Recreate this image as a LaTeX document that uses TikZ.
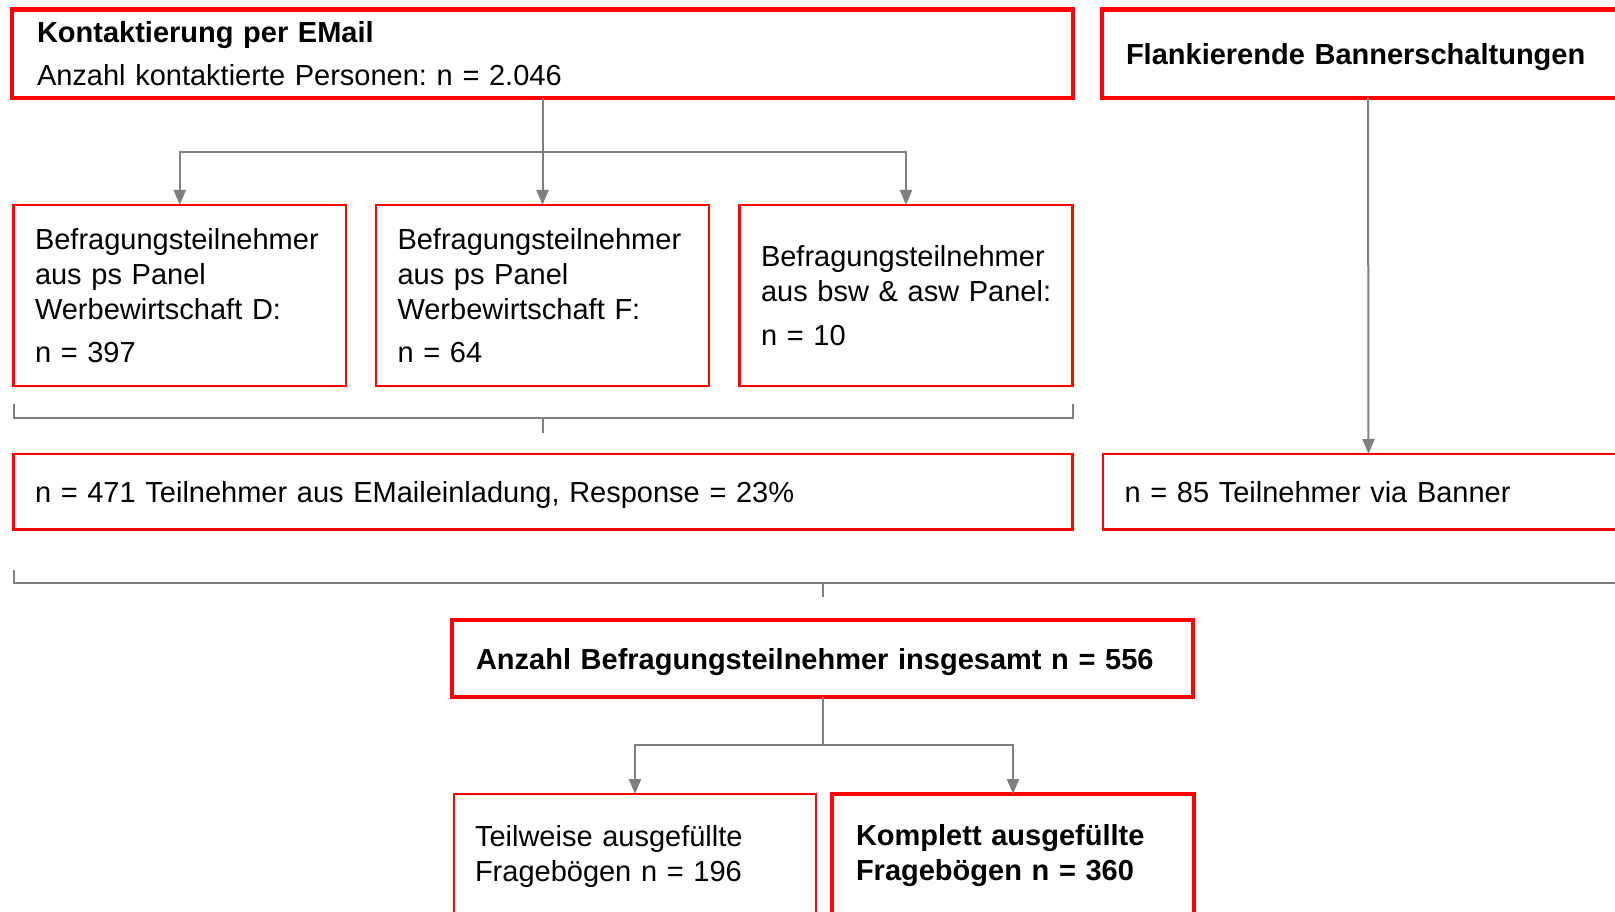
\documentclass[tikz,border=0pt]{standalone}
\usepackage{fontspec}
\setmainfont{Liberation Sans}
\usetikzlibrary{arrows.meta}
\definecolor{boxred}{RGB}{255,0,0}
\definecolor{linegray}{RGB}{128,128,128}
\frenchspacing

\begin{document}
\begin{tikzpicture}[x=1pt,y=-1pt]
	\tikzstyle{box}=[draw=boxred, line width=2.3pt, fill=white, outer sep=0pt, inner xsep=21.5pt, inner ysep=0pt, anchor=north west, align=left, font=\fontsize{29}{35}\selectfont]
	\tikzstyle{bigbox}=[box, line width=4.5pt, inner xsep=24pt]
	\tikzstyle{oneline}=[text depth=0pt]
	\tikzstyle{link}=[draw=linegray, line width=2pt]
	\tikzstyle{arrow}=[link, -{Triangle[length=15pt,width=12pt]}]
	\useasboundingbox (0,0) rectangle (1615,912);
	\clip (0,0) rectangle (1615,912);
	\fill[white] (0,0) rectangle (1615,912);
	% Kontakt
	\node (mail) [bigbox, inner xsep=25pt, text width=1011pt, minimum width=1061pt, minimum height=88.5pt] at (12,9.5) {\textbf{Kontaktierung per EMail}\\[8pt]Anzahl kontaktierte Personen: n = 2.046};
	\node (flank) [bigbox, oneline, text width=484pt, minimum width=532pt, minimum height=88.5pt] at (1102,9.5) {\textbf{Flankierende Bannerschaltungen}};
	% Panels
	\node (pD) [box, text width=289.5pt, minimum width=332.5pt, minimum height=181pt] at (13.5,205) {\mbox{Befragungsteilnehmer}\\aus ps Panel\\Werbewirtschaft D:\\[8pt]n = 397};
	\node (pF) [box, text width=290pt, minimum width=333pt, minimum height=181pt] at (376,205) {\mbox{Befragungsteilnehmer}\\aus ps Panel\\Werbewirtschaft F:\\[8pt]n = 64};
	\node (pBsw) [box, text width=290pt, minimum width=333pt, minimum height=181pt] at (739.5,205) {\mbox{Befragungsteilnehmer}\\\mbox{aus bsw \& asw Panel:}\\[9.5pt]n = 10};
	\node (mailsum) [box, oneline, text width=1016pt, minimum width=1059pt, minimum height=75.5pt] at (13.5,454) {n = 471 Teilnehmer aus EMaileinladung, Response = 23\%};
	\node (bannersum) [box, oneline, text width=488pt, minimum width=531pt, minimum height=75.5pt] at (1103,454) {n = 85 Teilnehmer via Banner};
	% Summe
	\node (total) [bigbox, oneline, font=\fontsize{29}{35}\selectfont\bfseries, text width=693pt, minimum width=741pt, minimum height=77pt] at (452,620) {Anzahl Befragungsteilnehmer insgesamt n = 556};
	\node (partial) [box, inner xsep=21pt, text width=320pt, minimum width=362pt, minimum height=124pt] at (454,794) {Teilweise ausgefüllte\\Fragebögen n = 196};
	\node (complete) [bigbox, font=\fontsize{29}{35}\selectfont\bfseries, text width=314pt, minimum width=362pt, minimum height=124pt] at (832,794) {Komplett ausgefüllte\\Fragebögen n = 360};

	\draw[link] (mail.south) -- ++(0,54.5) coordinate (fork1);
	\draw[arrow] (fork1) -| (pD.north);
	\draw[arrow] (fork1) -- (pF.north);
	\draw[arrow] (fork1) -| (pBsw.north);
	\draw[link] ([yshift=-18pt]pD.south west) -- ([yshift=-32pt]pD.south west) -- ([yshift=-32pt]pBsw.south east) -- ([yshift=-18pt]pBsw.south east);
	\draw[link] ([yshift=-32pt]pF.south) -- ++(0,14.5);
	\draw[arrow] (flank.south) -- (bannersum.north);
	\draw[link] ([yshift=-40.5pt]mailsum.south west) -- ([yshift=-53.5pt]mailsum.south west) -- ([yshift=-53.5pt]bannersum.south east) -- ([yshift=-40.5pt]bannersum.south east);
	\draw[link] ([yshift=37pt]total.north) -- ([yshift=23pt]total.north);
	\draw[link] (total.south) -- ++(0,48) coordinate (fork2);
	\draw[arrow] (fork2) -| (partial.north);
	\draw[arrow] (fork2) -| (complete.north);
	%	\draw[link] (partial.east) -- (complete.west);
\end{tikzpicture}
\end{document}
